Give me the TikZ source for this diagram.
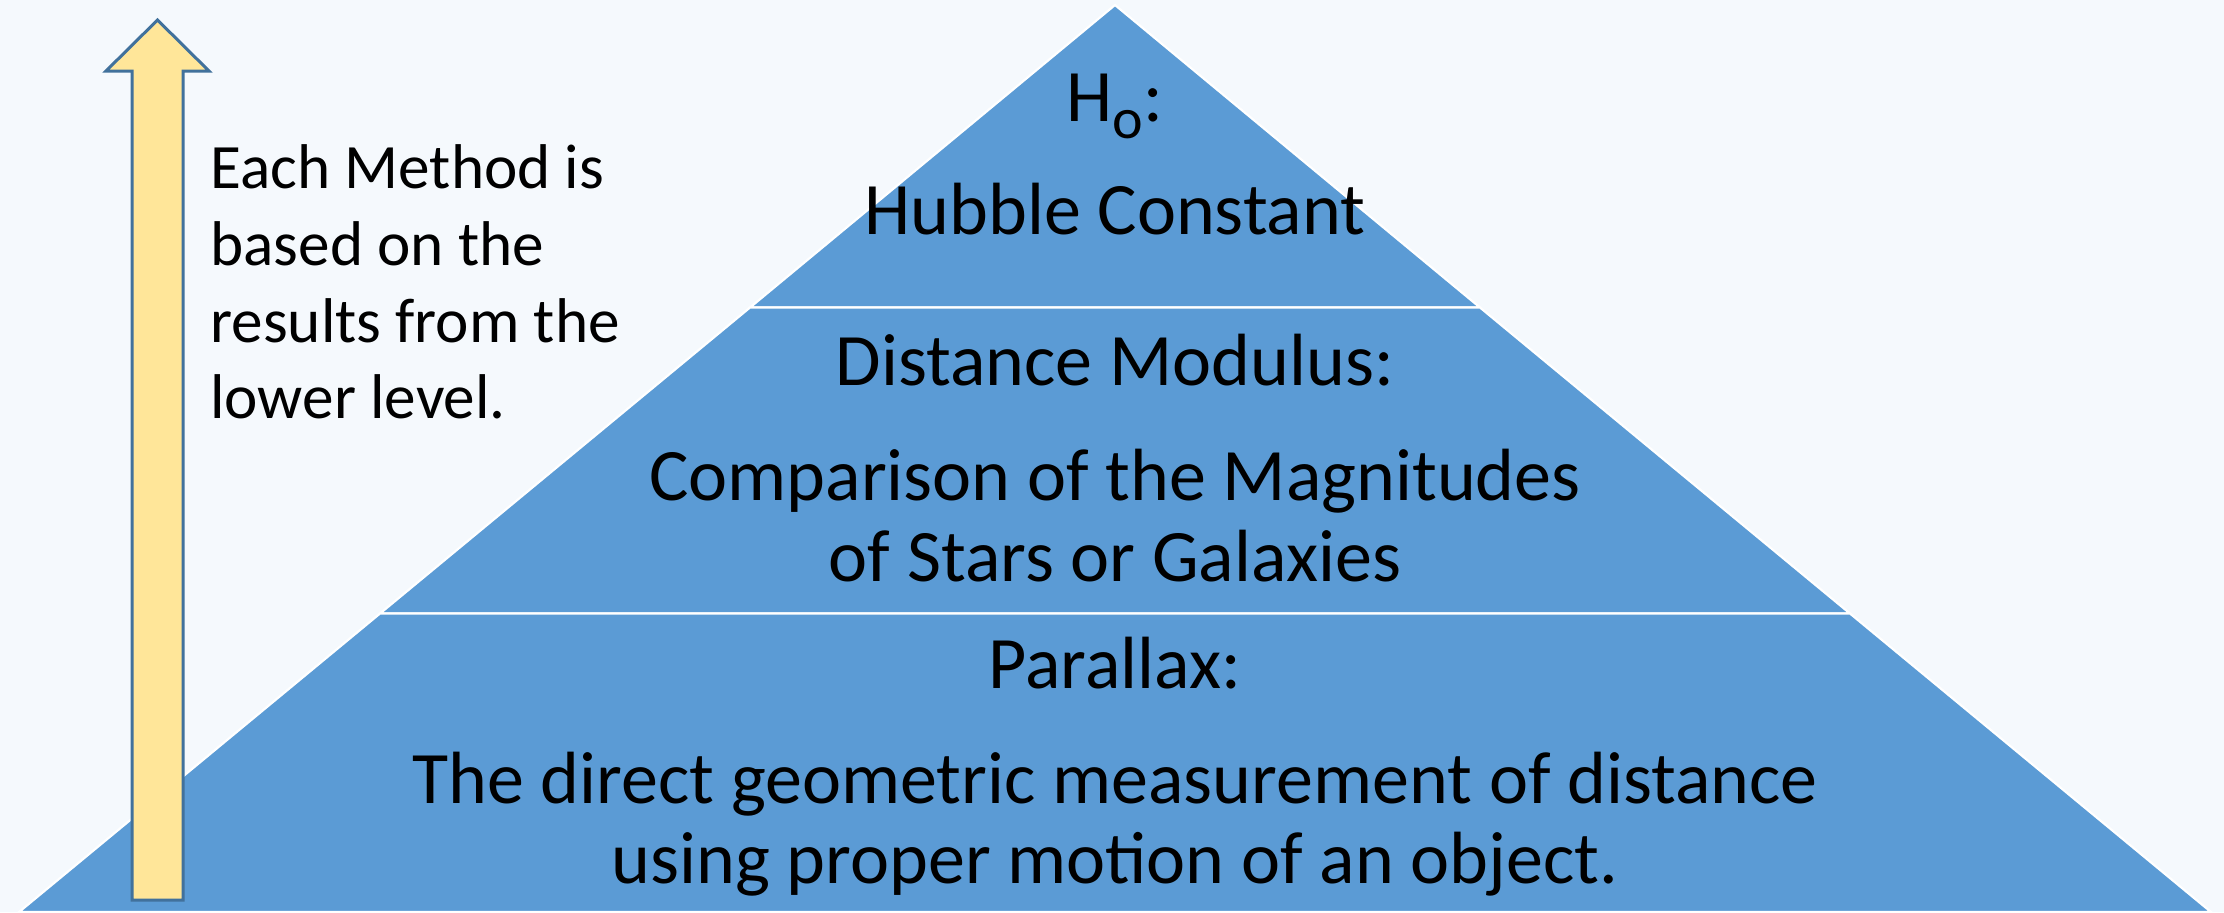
\documentclass[tikz,border=0pt]{standalone}
\usepackage{fontspec}
\setmainfont{Carlito}
\definecolor{bgc}{HTML}{F5F9FD}
\definecolor{pyr}{HTML}{5B9BD5}
\definecolor{arrfill}{HTML}{FFE699}
\definecolor{arredge}{HTML}{41719C}
\begin{document}
\begin{tikzpicture}[x=0.5pt,y=-0.5pt,
  level/.style={fill=pyr,draw=white,line width=1.1pt,line join=miter},
  pyrtext/.style={anchor=base,inner sep=0pt,font=\fontsize{37}{44}\selectfont},
  sidetext/.style={anchor=base west,inner sep=0pt,font=\fontsize{31.6}{38}\selectfont}]
\fill[bgc] (0,0) rectangle (2224,912);
\useasboundingbox (0,0) rectangle (2224,912);
% pyramid levels
\coordinate (apex) at (1115,5);
\draw[level] (apex) -- (1480,307.5) -- (750,307.5) -- cycle;
\draw[level] (750,307.5) -- (1480,307.5) -- (1850,613.5) -- (380,613.5) -- cycle;
\draw[level] (380,613.5) -- (1850,613.5) -- (2211,912) -- (19,912) -- cycle;
% arrow
\draw[fill=arrfill,draw=arredge,line width=1.5pt,line join=miter]
  (157.5,20) -- (209,71) -- (183,71) -- (183,900) -- (132,900) -- (132,71) -- (106,71) -- cycle;
% texts
\node[pyrtext] (h0) at (1115,121) {H{\fontsize{29}{29}\selectfont\raisebox{-8.5pt}{o}}:};
\node[pyrtext] (hub) at (1115,234) {Hubble Constant};
\node[pyrtext] (dm) at (1115,385) {Distance Modulus:};
\node[pyrtext] (cmp1) at (1115,500) {Comparison of the Magnitudes};
\node[pyrtext] (cmp2) at (1115,581) {of Stars or Galaxies};
\node[pyrtext] (par) at (1115,688) {Parallax:};
\node[pyrtext] (dir1) at (1115,803) {The direct geometric measurement of distance};
\node[pyrtext] (dir2) at (1115,883) {using proper motion of an object.};
\node[sidetext] (s1) at (210,188) {Each Method is};
\node[sidetext] (s2) at (210,265) {based on the};
\node[sidetext] (s3) at (210,342) {results from the};
\node[sidetext] (s4) at (210,418) {lower level.};
\end{tikzpicture}
\end{document}
